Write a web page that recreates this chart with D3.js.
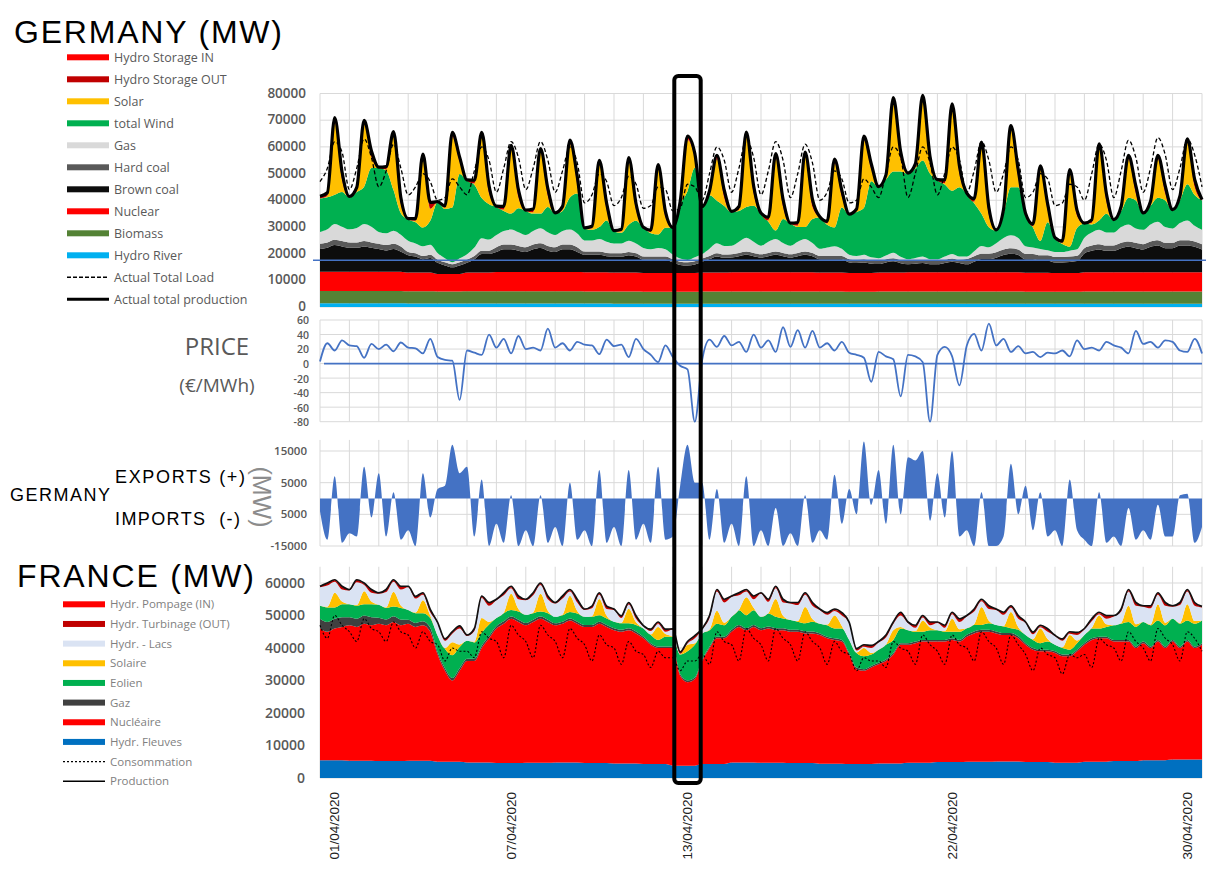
<!DOCTYPE html>
<html>
<head>
<meta charset="utf-8">
<script src="https://cdn.jsdelivr.net/npm/d3@7"></script>
<style>
  body { margin: 0; background: #fff; }
  text { font-family: "Open Sans", sans-serif; }
</style>
</head>
<body>
<svg id="chart" width="1206" height="870"></svg>
<script>
// ---- data: April 2020, one value every 6 hours (00h, 06h, 12h, 18h), plus 1 May 00h ----

// Germany, daily values (MW)
const deHydroRiver = [1400, 1400, 1400, 1350, 1350, 1300, 1300, 1300, 1300, 1300, 1250, 1250, 1250, 1250, 1250,
  1250, 1250, 1250, 1200, 1200, 1200, 1200, 1200, 1200, 1200, 1200, 1250, 1250, 1250, 1250];
const deBiomass = [4600, 4600, 4600, 4550, 4500, 4600, 4600, 4600, 4600, 4550, 4550, 4500, 4500, 4600, 4600,
  4600, 4600, 4550, 4500, 4600, 4600, 4600, 4600, 4600, 4550, 4500, 4600, 4600, 4600, 4600];
const deNuclear = [7200, 7200, 7200, 7000, 6500, 7000, 7200, 7200, 7200, 7200, 7100, 7000, 7000, 7100, 7200,
  7200, 7200, 7100, 7000, 7100, 7200, 7200, 7200, 7200, 7100, 7000, 7200, 7200, 7200, 7200];
const deHardCoal = [2000, 2000, 2000, 1200, 1200, 1200, 1800, 1800, 1800, 1200, 1200, 1200, 1200, 1200, 1200,
  1200, 1200, 1200, 1200, 1200, 1200, 1200, 2000, 2000, 2000, 2000, 2000, 2000, 2000, 2000];

// Germany, 6-hourly values (MW)
const deBrownCoal = [
  8500, 9000, 10000, 9500,  9000, 9000, 9500, 9000,  8500, 8000, 8500, 7500,  6500, 6000, 5000, 5500,
  4200, 3200, 2500, 3200,  3700, 5000, 7000, 7000,  7500, 8500, 8500, 8000,  7500, 8500, 9000, 8000,
  7500, 8500, 8500, 7500,  6500, 6500, 6500, 6000,  6000, 6000, 6500, 6000,  5000, 5000, 5000, 5000,
  4000, 3000, 2800, 3200,  4000, 5000, 6000, 5500,  5500, 6000, 6500, 6000,  5500, 6000, 6500, 6000,
  5500, 6000, 6500, 6000,  5000, 5000, 5000, 5000,  4000, 3800, 4000, 3500,  3200, 3800, 4200, 3500,
  3000, 3200, 3500, 3000,  3000, 3500, 4000, 3500,  3000, 4000, 5000, 5000,  5500, 6500, 7000, 6500,
  5000, 5000, 4500, 4500,  4000, 4000, 4200, 4500,  7000, 8000, 8500, 8000,  8000, 9000, 9500, 9000,
  8500, 9500, 10000, 9000,  9000, 10000, 10000, 9500,  8500];
const deGas = [
  4400, 4900, 5900, 5400,  4900, 5400, 6400, 5900,  4400, 4400, 4900, 4400,  4200, 3700, 3700, 3700,
  2500, 1500, 700, 1500,  2000, 3200, 4700, 4200,  4600, 5100, 5600, 5100,  4600, 5100, 5600, 5100,
  4600, 5100, 5600, 5100,  4200, 4200, 4700, 4200,  3700, 3700, 4200, 3700,  3200, 2700, 3200, 2700,
  1700, 1200, 900, 1500,  1700, 2700, 3700, 3200,  3200, 4200, 5200, 4200,  3200, 4200, 4700, 3700,
  3200, 4200, 4700, 3700,  2700, 3200, 3700, 2700,  1700, 1400, 1700, 1200,  1000, 1400, 2000, 1200,
  700, 1000, 1200, 700,  700, 1200, 1700, 1200,  900, 1900, 2900, 2400,  3400, 4400, 4900, 4400,
  2900, 2400, 2400, 1900,  1900, 1900, 2200, 2400,  3900, 4900, 5400, 4900,  4900, 5900, 6400, 5400,
  5400, 6400, 6900, 5900,  5400, 6400, 7400, 5900,  5400];
const deWind = [
  12600, 12000, 11000, 13000,  12000, 13500, 14000, 22000,  24000, 23500, 15200, 8000,  8000, 8000, 7000, 9000,
  19000, 18500, 20500, 31600,  27500, 23500, 15000, 13200,  10500, 7500, 6000, 9000,  9000, 6500, 5500, 9500,
  8000, 7500, 12000, 15000,  4400, 4000, 4500, 8000,  4500, 4000, 6000, 8500,  7500, 6000, 5000, 8000,
  10000, 20200, 25700, 33500,  17500, 20000, 16000, 15000,  12600, 11500, 11500, 13500,  12000, 7500, 3200, 9000,
  8200, 5500, 4500, 9000,  11700, 8500, 7000, 15500,  15000, 16500, 17500, 28500,  26500, 28500, 30500, 32000,
  32000, 33500, 36000, 32000,  29500, 27000, 23700, 26000,  23500, 18000, 12000, 7500,  4700, 9000, 18000, 19000,
  12000, 7500, 3000, 10500,  5200, 3000, 1500, 8000,  5200, 3000, 3500, 7000,  4500, 6000, 10000, 10500,
  6000, 7000, 9000, 10000,  6700, 8500, 13500, 11500,  11000];
const deSolar = [
  0, 500, 27100, 4500,  0, 500, 23300, 4000,  0, 500, 20400, 3500,  0, 500, 26000, 4500,
  0, 500, 26500, 4500,  0, 500, 23100, 4000,  0, 500, 24100, 4000,  0, 500, 22900, 4000,
  0, 500, 20000, 3500,  0, 500, 23500, 4000,  0, 500, 23700, 4000,  0, 500, 24700, 4000,
  0, 500, 19200, 3500,  0, 500, 15500, 3000,  0, 500, 26600, 4500,  0, 500, 27300, 4500,
  0, 500, 26600, 4500,  0, 500, 24100, 4000,  0, 500, 25400, 4500,  0, 500, 26200, 4500,
  0, 500, 22900, 4000,  0, 500, 31000, 5000,  0, 500, 25400, 4500,  0, 500, 21600, 3500,
  0, 500, 26600, 4500,  0, 500, 27400, 4500,  0, 500, 27200, 4500,  0, 500, 14400, 2500,
  0, 500, 14400, 2500,  0, 500, 15600, 3000,  0];
const deStorageOut = [
  800, 1200, 300, 2500,  300, 1200, 300, 2000,  300, 1000, 300, 2000,  300, 800, 200, 2000,
  200, 600, 200, 1500,  300, 1200, 300, 2500,  300, 1200, 300, 2500,  300, 1200, 300, 2500,
  300, 1200, 300, 2500,  300, 800, 200, 2000,  300, 800, 200, 2000,  200, 600, 200, 1800,
  200, 600, 200, 1500,  300, 1200, 300, 2500,  300, 1200, 300, 2500,  300, 1200, 300, 2500,
  300, 1200, 300, 2500,  300, 800, 200, 2000,  200, 600, 200, 1800,  300, 1200, 300, 2500,
  300, 1200, 300, 2000,  300, 1200, 300, 2500,  300, 1200, 300, 2500,  300, 1200, 300, 2500,
  300, 800, 200, 2000,  200, 600, 200, 1800,  300, 1200, 300, 2500,  300, 1200, 300, 2500,
  300, 1200, 300, 2500,  300, 1200, 300, 2500,  300];
const deStorageIn = [
  0, 0, 1500, 500,  0, 0, 1200, 400,  0, 0, 1200, 400,  0, 0, 1300, 400,
  0, 0, 1500, 300,  0, 0, 1200, 400,  0, 0, 1200, 400,  0, 0, 1200, 400,
  0, 0, 1200, 400,  0, 0, 1300, 400,  0, 0, 1300, 400,  0, 0, 1300, 300,
  0, 0, 1300, 300,  0, 0, 1200, 400,  0, 0, 1200, 400,  0, 0, 1200, 400,
  0, 0, 1200, 400,  0, 0, 1300, 400,  0, 0, 1300, 300,  0, 0, 1200, 400,
  0, 0, 1200, 400,  0, 0, 1200, 400,  0, 0, 1200, 400,  0, 0, 1200, 400,
  0, 0, 1300, 400,  0, 0, 1300, 300,  0, 0, 1200, 400,  0, 0, 1200, 400,
  0, 0, 1200, 400,  0, 0, 1200, 400,  0];
const deLoad = [
  47000, 52000, 62000, 58000,  44000, 52000, 63000, 56000,  45000, 51000, 61000, 52000,  42000, 45000, 50000, 47000,
  40000, 41000, 48000, 45000,  42000, 51000, 60000, 55000,  43000, 52000, 62000, 56000,  44000, 52000, 62000, 55000,
  43000, 51000, 60000, 54000,  39000, 42000, 50000, 47000,  38000, 41000, 49000, 46000,  37000, 38000, 45000, 44000,
  36000, 37000, 46000, 45000,  40000, 50000, 60000, 55000,  43000, 52000, 63000, 56000,  42000, 51000, 62000, 55000,
  41000, 50000, 61000, 54000,  40000, 43000, 51000, 48000,  39000, 40000, 48000, 45000,  41000, 50000, 60000, 56000,
  41000, 50000, 60000, 54000,  42000, 50000, 60000, 55000,  43000, 51000, 62000, 55000,  43000, 50000, 60000, 55000,
  41000, 43000, 50000, 48000,  38000, 39000, 46000, 45000,  40000, 50000, 61000, 55000,  41000, 51000, 62500, 56000,
  43000, 52000, 63500, 57000,  44000, 52000, 63000, 57000,  45000];
const deBaseLine = 17500;

// Germany day-ahead price (EUR/MWh)
const price = [
  3, 28, 18, 32,  25, 24, 8, 27,  20, 26, 17, 29,  22, 21, 14, 34,
  9, 5, 4, -50,  18, 15, 12, 40,  22, 34, 14, 38,  20, 22, 18, 48,
  22, 28, 18, 30,  26, 25, 13, 33,  24, 26, 9, 34,  20, 12, 2, 25,
  9, -3, -8, -80,  5, 33, 23, 38,  25, 30, 16, 40,  22, 32, 16, 50,
  23, 46, 22, 45,  22, 28, 18, 30,  15, 12, 8, -25,  16, 10, 6, -45,
  12, 10, 2, -80,  12, 23, 10, -30,  25, 41, 18, 55,  25, 34, 16, 24,
  14, 16, 9, 15,  14, 18, 10, 32,  20, 22, 18, 30,  25, 22, 14, 45,
  27, 30, 22, 32,  30, 18, 16, 34,  14];

// Germany exports (+) / imports (-) (MW)
const deExports = [
  -4000, -13000, 7000, -14000,  -11000, -12000, 10000, -6000,  8000, -12000, 2000, -13000,  -10000, -15000, 8000, -6000,
  3000, 4000, 17000, 8000,  10000, -12000, 6000, -15000,  -8000, -14000, 1000, -15000,  -10000, -15000, 1000, -14000,
  -9000, -15000, 5000, -13000,  -10000, -15000, 9000, -14000,  -9000, -15000, 9000, -13000,  -8000, -14000, 10000, -13000,
  -12000, 4000, 17000, 5000,  5000, -13000, 3000, -14000,  -8000, -15000, 7000, -15000,  -10000, -15000, -3000, -15000,
  -11000, -15000, 1000, -14000,  -10000, -13000, 7500, -8000,  3000, -5000, 18000, -2000,  9000, -8000, 17000, -5000,
  13000, 12000, 15000, -7000,  8000, -6000, 15000, -12000,  -10000, -15000, 2000, -15000,  -15000, -12000, 11000, -5000,
  4000, -10000, 2000, -12000,  -10000, -15000, 6000, -10000,  -13000, -15000, 2000, -14000,  -12000, -15000, -3000, -13000,
  -10000, -13000, -2000, -12000,  -12000, 1000, 1500, -14000,  -9000];

// France, daily values (MW)
const frRiver = [5500, 5300, 5200, 5300, 5000, 4800, 4600, 4700, 4800, 4600, 4500, 4300, 3800, 4300, 4800,
  4700, 4600, 4400, 4300, 4500, 4700, 4900, 5000, 5100, 4900, 4700, 5000, 5200, 5500, 5700];
const frGas = [3000, 2500, 1800, 1200, 800, 700, 700, 700, 600, 600, 600, 500, 500, 500, 600,
  600, 600, 500, 500, 500, 500, 500, 600, 600, 500, 500, 500, 500, 500, 500];

// France, 6-hourly values (MW)
const frNuclear = [
  40500, 39500, 40500, 41000,  41700, 41200, 42200, 41700,  42300, 41800, 42800, 41800,  42200, 41200, 41700, 39700,
  33000, 28000, 25000, 28000,  31200, 31200, 35200, 38200,  41400, 42900, 44400, 43400,  42300, 43300, 44300, 43300,
  42200, 42700, 43700, 42700,  41900, 41900, 42900, 41900,  41000, 40500, 41000, 40000,  38700, 36700, 35700, 35700,
  36200, 27700, 25700, 26700,  31700, 35700, 38700, 38700,  40200, 41700, 40700, 41700,  40800, 41300, 40800, 40800,
  40400, 40400, 39900, 39900,  39600, 38600, 38100, 37600,  33700, 29200, 28700, 29700,  30500, 31500, 33500, 36500,
  36300, 36800, 37300, 37300,  37100, 37100, 37600, 37100,  38500, 39500, 40000, 40000,  39400, 38900, 38900, 37900,
  36100, 34600, 34100, 34100,  33800, 32800, 32800, 34300,  36000, 37500, 38000, 38000,  36800, 36800, 36800, 34800,
  36000, 34500, 36500, 34500,  36300, 34300, 36300, 34300,  35300];
const frWind = [
  4000, 4500, 3500, 4000,  4000, 4000, 3500, 4000,  4000, 3500, 3000, 3500,  3000, 3000, 2500, 3000,
  5000, 6000, 7000, 6500,  5500, 5000, 4000, 3500,  2500, 2500, 2000, 2500,  2500, 2000, 1500, 2000,
  2000, 2000, 2000, 2500,  2500, 2500, 2000, 2000,  2000, 2000, 1500, 2000,  2500, 2500, 2000, 3000,
  3000, 6000, 9000, 10000,  8000, 5000, 4000, 3500,  4000, 4500, 4000, 4500,  3500, 4000, 3500, 3000,
  3000, 2500, 2500, 3000,  3000, 3500, 3000, 3500,  4000, 4500, 4000, 3500,  4000, 4500, 4000, 4500,
  4000, 3000, 2500, 3000,  3000, 2500, 2000, 2500,  2000, 2000, 1500, 2000,  2000, 2000, 1500, 2000,
  2500, 2500, 2000, 2500,  2000, 2000, 1500, 2000,  2500, 3000, 2500, 3000,  4500, 5000, 5500, 6000,
  6000, 6500, 6000, 6500,  6500, 7000, 6000, 7000,  7000];
const frSolar = [
  0, 200, 4500, 800,  0, 200, 4000, 800,  0, 200, 4500, 800,  0, 200, 4000, 800,
  0, 200, 4000, 800,  0, 200, 4500, 800,  0, 200, 5000, 800,  0, 200, 5500, 800,
  0, 200, 5000, 800,  0, 200, 5000, 800,  0, 200, 4500, 800,  0, 200, 4000, 800,
  0, 100, 2000, 500,  0, 200, 4000, 800,  0, 200, 5500, 800,  0, 200, 5500, 800,
  0, 200, 5000, 800,  0, 200, 4000, 800,  0, 100, 2500, 500,  0, 100, 3000, 500,
  0, 200, 3500, 800,  0, 200, 4000, 800,  0, 200, 5500, 800,  0, 200, 5000, 800,
  0, 200, 4500, 800,  0, 200, 4500, 800,  0, 200, 4000, 800,  0, 200, 5000, 800,
  0, 200, 5000, 800,  0, 200, 5000, 800,  0];
const frLakes = [
  5700, 6500, 3400, 3700,  4200, 7000, 1900, 2700,  3400, 4700, 3100, 4900,  7000, 4300, 1700, 1000,
  3900, 2200, 2600, 4900,  1500, 3300, 6200, 5000,  5500, 5300, 1700, 3000,  4500, 5300, 2700, 3500,
  4100, 4900, 1300, 2600,  2100, 2400, 1300, 2100,  3600, 1400, 1300, 1100,  700, 1000, 900, 700,
  2200, 100, 400, 1500,  1200, 3500, 5900, 6200,  6100, 4400, 1800, 2600,  7100, 3400, 3300, 4100,
  5100, 4900, 3800, 4100,  4200, 3000, 1400, 3200,  5200, 600, 400, 1500,  2200, 2100, 1900, 3500,
  2200, 1000, 900, 700,  2200, 1000, 1400, 2200,  3600, 3900, 1800, 3600,  4600, 3400, 1300, 2600,
  3700, 1500, 400, 2200,  2700, 2000, 400, 1700,  1700, 2000, 400, 1700,  2700, 3500, 4400, 5700,
  4700, 5000, 2900, 5200,  3700, 5500, 3900, 4700,  4000];
const frTurbine = [
  300, 800, 300, 1000,  300, 800, 300, 1000,  300, 800, 300, 1000,  300, 700, 300, 900,
  200, 600, 200, 800,  300, 800, 300, 1000,  300, 800, 300, 1000,  300, 800, 300, 1000,
  300, 800, 300, 1000,  300, 700, 300, 900,  300, 700, 300, 900,  200, 600, 200, 800,
  200, 600, 200, 800,  300, 800, 300, 1000,  300, 800, 300, 1000,  300, 800, 300, 1000,
  300, 800, 300, 1000,  300, 700, 300, 900,  200, 600, 200, 800,  300, 800, 300, 1000,
  300, 800, 300, 1000,  300, 800, 300, 1000,  300, 800, 300, 1000,  300, 800, 300, 1000,
  300, 700, 300, 900,  200, 600, 200, 800,  300, 800, 300, 1000,  300, 800, 300, 1000,
  300, 800, 300, 1000,  300, 800, 300, 1000,  300];
const frPumping = [
  0, 0, 300, 0,  0, 0, 300, 0,  0, 0, 300, 0,  0, 0, 300, 0,
  0, 0, 400, 0,  0, 0, 300, 0,  0, 0, 300, 0,  0, 0, 300, 0,
  0, 0, 300, 0,  0, 0, 300, 0,  0, 0, 300, 0,  0, 0, 400, 0,
  0, 0, 400, 0,  0, 0, 300, 0,  0, 0, 300, 0,  0, 0, 300, 0,
  0, 0, 300, 0,  0, 0, 300, 0,  0, 0, 400, 0,  0, 0, 300, 0,
  0, 0, 300, 0,  0, 0, 300, 0,  0, 0, 300, 0,  0, 0, 300, 0,
  0, 0, 300, 0,  0, 0, 400, 0,  0, 0, 300, 0,  0, 0, 300, 0,
  0, 0, 300, 0,  0, 0, 300, 0,  0];
const frConsumption = [
  47000, 43000, 50000, 47000,  45000, 42000, 49000, 46000,  45000, 42000, 48000, 45000,  44000, 40000, 45000, 42000,
  41000, 36000, 40000, 39000,  39000, 37000, 45000, 43000,  42000, 37000, 47000, 44000,  42000, 37000, 47000, 44000,
  42000, 37000, 46000, 43000,  41000, 36000, 44000, 41000,  40000, 35000, 42000, 39000,  38000, 34000, 39000, 37000,
  37000, 33000, 36000, 36000,  38000, 35000, 45000, 42000,  41000, 36000, 46000, 43000,  41000, 36000, 46000, 43000,
  41000, 36000, 45000, 42000,  40000, 35000, 42000, 39000,  38000, 33000, 37000, 36000,  36000, 34000, 42000, 40000,
  39000, 35000, 44000, 41000,  39000, 35000, 44000, 41000,  40000, 36000, 45000, 42000,  40000, 35000, 44000, 41000,
  38000, 33000, 40000, 38000,  37000, 32000, 38000, 37000,  38000, 34000, 43000, 41000,  40000, 36000, 45000, 42000,
  40000, 36000, 46000, 43000,  41000, 36000, 45000, 43000,  39000];

// axis ticks and labels
const deTicks = [0, 10000, 20000, 30000, 40000, 50000, 60000, 70000, 80000];
const priceTicks = [60, 40, 20, 0, -20, -40, -60, -80];
const exTicks = [15000, 5000, -5000, -15000];
const exTickLabels = ["15000", "5000", "5000", "-15000"];
const frTicks = [0, 10000, 20000, 30000, 40000, 50000, 60000];
const dateLabelDays = [1, 7, 13, 22, 30];
const dateLabels = ["01/04/2020", "07/04/2020", "13/04/2020", "22/04/2020", "30/04/2020"];
const highlightDay = 13;

// ---- drawing ----
const svg = d3.select("#chart");
svg.append("rect").attr("width", 1206).attr("height", 870).attr("fill", "#fff");

const HOUR = 3600e3;
const t0 = Date.UTC(2020, 3, 1);
const times = d3.range(deWind.length).map(i => new Date(t0 + i * 6 * HOUR));
const dayOf = i => Math.min(Math.floor(i / 4), 29);
const dayStart = d => new Date(t0 + (d - 1) * 24 * HOUR);   // d = day of month
const dayStarts = d3.range(1, 32).map(dayStart);

const x = d3.scaleUtc()
  .domain([dayStart(1), dayStart(31)])
  .range([320, 1202]);

const yDe = d3.scaleLinear().domain([0, 80000]).range([307, 93.5]);
const yPrice = d3.scaleLinear().domain([-80, 60]).range([421.7, 320]);
const yEx = d3.scaleLinear().domain([-15000, 15000]).range([546, 451]);
const yFr = d3.scaleLinear().domain([0, 60000]).range([778, 583]);

const gridColor = "#d9d9d9";

function grid(y, hTicks, vTop, vBottom) {
  const g = svg.append("g");
  g.selectAll("line.v").data(dayStarts).join("line").attr("class", "v")
    .attr("x1", d => x(d)).attr("x2", d => x(d))
    .attr("y1", vTop).attr("y2", vBottom)
    .attr("stroke", gridColor).attr("stroke-width", 1);
  g.selectAll("line.h").data(hTicks).join("line").attr("class", "h")
    .attr("x1", x.range()[0]).attr("x2", x.range()[1])
    .attr("y1", d => y(d)).attr("y2", d => y(d))
    .attr("stroke", gridColor).attr("stroke-width", 1);
}

function yLabels(y, ticks, labels, xr, size, dy) {
  svg.append("g").selectAll("text").data(ticks).join("text")
    .attr("x", xr).attr("y", d => y(d)).attr("dy", dy || "0.35em")
    .attr("text-anchor", "end")
    .style("font-size", size + "px").style("font-weight", 600)
    .attr("fill", "#595959")
    .text((d, i) => labels ? labels[i] : d);
}

function stackAreas(rows, keys, colors, y) {
  const series = d3.stack().keys(keys)(rows);
  const area = d3.area()
    .x(d => x(d.data.t))
    .y0(d => y(d[0])).y1(d => y(d[1]))
    .curve(d3.curveMonotoneX);
  svg.append("g").selectAll("path").data(series).join("path")
    .attr("d", area)
    .attr("fill", d => colors[d.key]);
}

function drawLine(values, y, stroke, width, dash) {
  const line = d3.line()
    .x((d, i) => x(times[i]))
    .y(d => y(d))
    .curve(d3.curveMonotoneX);
  svg.append("path").datum(values)
    .attr("d", line)
    .attr("fill", "none")
    .attr("stroke", stroke).attr("stroke-width", width)
    .attr("stroke-dasharray", dash || null)
    .attr("stroke-linejoin", "round");
}

// ---------- Germany generation ----------
grid(yDe, deTicks, yDe(80000), yDe(0));
yLabels(yDe, deTicks, null, 306, 13.5, "0.3em");

const deKeys = ["hydroRiver", "biomass", "nuclear", "brownCoal", "hardCoal", "gas", "wind", "solar", "storageOut", "storageIn"];
const deColors = {
  hydroRiver: "#00b0f0", biomass: "#548235", nuclear: "#ff0000", brownCoal: "#0d0d0d",
  hardCoal: "#595959", gas: "#d9d9d9", wind: "#00b050", solar: "#ffc000",
  storageOut: "#c00000", storageIn: "#ff0000"
};
const deRows = times.map((t, i) => ({
  t,
  hydroRiver: deHydroRiver[dayOf(i)], biomass: deBiomass[dayOf(i)], nuclear: deNuclear[dayOf(i)],
  brownCoal: deBrownCoal[i], hardCoal: deHardCoal[dayOf(i)], gas: deGas[i],
  wind: deWind[i], solar: deSolar[i], storageOut: deStorageOut[i], storageIn: deStorageIn[i]
}));
stackAreas(deRows, deKeys, deColors, yDe);
const deProduction = deRows.map(r => d3.sum(deKeys, k => r[k]));

svg.append("line")
  .attr("x1", 313).attr("x2", 1206)
  .attr("y1", yDe(deBaseLine)).attr("y2", yDe(deBaseLine))
  .attr("stroke", "#4472c4").attr("stroke-width", 1.5);

drawLine(deLoad, yDe, "#000", 1.3, "4,2.5");
drawLine(deProduction, yDe, "#000", 3.2);

// ---------- price ----------
grid(yPrice, priceTicks, yPrice(60), yPrice(-80));
yLabels(yPrice, priceTicks, null, 309, 10.5, "0.42em");
svg.append("line")
  .attr("x1", x.range()[0] + 4).attr("x2", x.range()[1])
  .attr("y1", yPrice(0)).attr("y2", yPrice(0))
  .attr("stroke", "#4472c4").attr("stroke-width", 1.6);
drawLine(price, yPrice, "#4472c4", 1.8);

// ---------- exports / imports ----------
grid(yEx, exTicks, yEx(18500), yEx(-15000));
yLabels(yEx, exTicks, exTickLabels, 307, 11.5);
svg.append("path").datum(deExports)
  .attr("d", d3.area()
    .x((d, i) => x(times[i]))
    .y0(yEx(0)).y1(d => yEx(d))
    .curve(d3.curveMonotoneX))
  .attr("fill", "#4472c4");

// ---------- France generation ----------
grid(yFr, frTicks, yFr(65000), yFr(0));
yLabels(yFr, frTicks, null, 305, 14);

const frKeys = ["river", "nuclear", "gas", "wind", "solar", "lakes", "turbine", "pumping"];
const frColors = {
  river: "#0070c0", nuclear: "#ff0000", gas: "#404040", wind: "#00b050", solar: "#ffc000",
  lakes: "#dae3f3", turbine: "#c00000", pumping: "#ff0000"
};
const frRows = times.map((t, i) => ({
  t,
  river: frRiver[dayOf(i)], nuclear: frNuclear[i], gas: frGas[dayOf(i)], wind: frWind[i],
  solar: frSolar[i], lakes: frLakes[i], turbine: frTurbine[i], pumping: frPumping[i]
}));
stackAreas(frRows, frKeys, frColors, yFr);
const frProduction = frRows.map(r => d3.sum(frKeys, k => r[k]));
drawLine(frConsumption, yFr, "#000", 1.1, "2,2");
drawLine(frProduction, yFr, "#111", 1.7);

// ---------- date labels ----------
svg.append("g").selectAll("text").data(dateLabelDays).join("text")
  .attr("transform", d => `translate(${x(new Date(+dayStart(d) + 12 * HOUR))},792) rotate(-90)`)
  .attr("dy", "0.35em")
  .attr("text-anchor", "end")
  .style("font-family", "'Liberation Sans', Arial, sans-serif")
  .style("font-size", "13.5px")
  .attr("fill", "#222")
  .text((d, i) => dateLabels[i]);

// ---------- highlighted day ----------
const hx0 = x(dayStart(highlightDay)), hx1 = x(dayStart(highlightDay + 1));
svg.append("rect")
  .attr("x", hx0 + 1.5).attr("y", 76)
  .attr("width", hx1 - hx0 - 3).attr("height", 707)
  .attr("rx", 4)
  .attr("fill", "none").attr("stroke", "#000").attr("stroke-width", 4);

// ---------- titles & side texts ----------
svg.append("text").attr("x", 14).attr("y", 43)
  .style("font-family", "'Liberation Sans', Arial, sans-serif").style("font-size", "32px")
  .attr("textLength", 268).attr("fill", "#000").text("GERMANY (MW)");
svg.append("text").attr("x", 17).attr("y", 587)
  .style("font-family", "'Liberation Sans', Arial, sans-serif").style("font-size", "32px")
  .attr("textLength", 237).attr("fill", "#000").text("FRANCE (MW)");

svg.append("text").attr("x", 217).attr("y", 355).attr("text-anchor", "middle")
  .style("font-size", "24px").attr("fill", "#595959").text("PRICE");
svg.append("text").attr("x", 217).attr("y", 392).attr("text-anchor", "middle")
  .style("font-size", "19px").attr("fill", "#595959").text("(€/MWh)");

const narrow = "'Liberation Sans', Arial, sans-serif";
svg.append("text").attr("x", 10).attr("y", 501).style("font-family", narrow).style("font-size", "18px")
  .attr("textLength", 100).attr("fill", "#000").text("GERMANY");
svg.append("text").attr("x", 115).attr("y", 483).style("font-family", narrow).style("font-size", "18px")
  .attr("textLength", 130).attr("fill", "#000").text("EXPORTS (+)");
svg.append("text").attr("x", 115).attr("y", 525).style("font-family", narrow).style("font-size", "18px")
  .attr("textLength", 125).attr("fill", "#000").attr("xml:space", "preserve").text("IMPORTS  (-)");
svg.append("text").attr("transform", "translate(262,497) rotate(90)")
  .attr("text-anchor", "middle").attr("dy", "0.35em")
  .style("font-family", narrow).style("font-size", "25px").attr("fill", "#8c8c8c").text("(MW)");

// ---------- legends ----------
const deLegend = [
  { label: "Hydro Storage IN", color: "#ff0000" },
  { label: "Hydro Storage OUT", color: "#c00000" },
  { label: "Solar", color: "#ffc000" },
  { label: "total Wind", color: "#00b050" },
  { label: "Gas", color: "#d9d9d9" },
  { label: "Hard coal", color: "#595959" },
  { label: "Brown coal", color: "#0d0d0d" },
  { label: "Nuclear", color: "#ff0000" },
  { label: "Biomass", color: "#548235" },
  { label: "Hydro River", color: "#00b0f0" },
  { label: "Actual Total Load", dash: "4,2", width: 1.4 },
  { label: "Actual total production", width: 3 }
];
const frLegend = [
  { label: "Hydr. Pompage (IN)", color: "#ff0000" },
  { label: "Hydr. Turbinage (OUT)", color: "#c00000" },
  { label: "Hydr. - Lacs", color: "#dae3f3" },
  { label: "Solaire", color: "#ffc000" },
  { label: "Eolien", color: "#00b050" },
  { label: "Gaz", color: "#404040" },
  { label: "Nucléaire", color: "#ff0000" },
  { label: "Hydr. Fleuves", color: "#0070c0" },
  { label: "Consommation", dash: "2,2", width: 1.1 },
  { label: "Production", width: 1.7 }
];

function legend(items, x0, y0, step, size, textColor) {
  const g = svg.append("g").selectAll("g").data(items).join("g")
    .attr("transform", (d, i) => `translate(${x0},${y0 + i * step})`);
  g.filter(d => d.color).append("rect")
    .attr("x", 0).attr("y", -3).attr("width", 42).attr("height", 6)
    .attr("fill", d => d.color);
  g.filter(d => !d.color).append("line")
    .attr("x1", 0).attr("x2", 42).attr("y1", 0).attr("y2", 0)
    .attr("stroke", "#000").attr("stroke-width", d => d.width)
    .attr("stroke-dasharray", d => d.dash || null);
  g.append("text").attr("x", 47).attr("dy", "0.35em")
    .style("font-size", size + "px").attr("fill", textColor)
    .text(d => d.label);
}
legend(deLegend, 67, 57.3, 22, 12.5, "#595959");
legend(frLegend, 63, 604.3, 19.66, 11.5, "#7f7f7f");
</script>
</body>
</html>
